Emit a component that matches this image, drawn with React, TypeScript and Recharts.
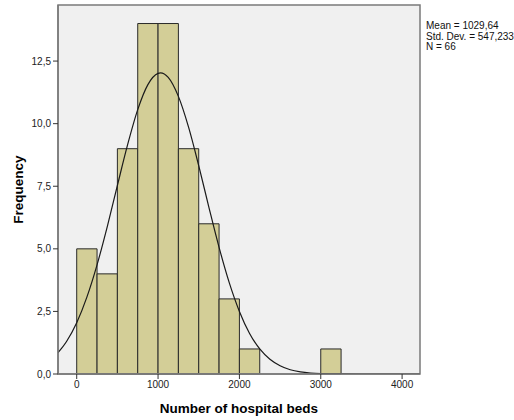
import React from "react";
import {
  ComposedChart,
  Line,
  XAxis,
  YAxis,
  ReferenceArea,
  CartesianGrid,
  Label,
} from "recharts";

// Histogram bins (number of hospital beds) and their frequencies
const binStarts = [0, 250, 500, 750, 1000, 1250, 1500, 1750, 2000, 3000];
const binEnds = [250, 500, 750, 1000, 1250, 1500, 1750, 2000, 2250, 3250];
const binCounts = [5, 4, 9, 14, 14, 9, 6, 3, 1, 1];

// Normal curve
const curveX = [
  -230, -125, 0, 125, 250, 375, 500, 625, 750, 875, 1000, 1030, 1125, 1250,
  1375, 1500, 1625, 1750, 1875, 2000, 2125, 2250, 2375, 2500, 2625, 2750,
  2875, 3000, 3250, 3500, 3750, 4000, 4220,
];
const curveY = [
  0.85, 1.3, 2.05, 3.07, 4.36, 5.88, 7.53, 9.15, 10.56, 11.56, 12.01, 12.03,
  11.85, 11.09, 9.86, 8.32, 6.66, 5.06, 3.65, 2.5, 1.62, 1.0, 0.59, 0.33,
  0.17, 0.086, 0.041, 0.018, 0.002, 0, 0, 0, 0,
];

const xTicks = [0, 1000, 2000, 3000, 4000];
const yTicks = [0, 2.5, 5, 7.5, 10, 12.5];
const statsLines = ["Mean = 1029,64", "Std. Dev. = 547,233", "N = 66"];
const xDomain = [-230, 4220];
const yDomain = [0, 14.74];

const curveData = curveX.map((x, i) => ({ x, y: curveY[i] }));

const FONT = "'Liberation Sans', Arial, sans-serif";
const fmt = (v: number) => v.toFixed(1).replace(".", ",");

export default function App() {
  return (
    <div style={{ position: "absolute", left: 0, top: 0, width: 514, height: 420, background: "#fff" }}>
      <ComposedChart
        width={514}
        height={420}
        data={curveData}
        margin={{ top: 5, right: 94, bottom: 0, left: 8 }}
      >
        <CartesianGrid fill="#f0f0f0" horizontal={false} vertical={false} />
        <XAxis
          xAxisId="b"
          dataKey="x"
          type="number"
          domain={xDomain}
          ticks={xTicks}
          allowDataOverflow
          height={46}
          axisLine={{ stroke: "#7a7a7a", strokeWidth: 1.5 }}
          tickLine={{ stroke: "#333" }}
          tickSize={5}
          tick={{ fontSize: 10, fill: "#222", fontFamily: FONT }}
          tickFormatter={(v: number) => String(v)}
        >
          <Label
            value="Number of hospital beds"
            position="insideBottom"
            offset={7}
            style={{ fontSize: 13.5, fontWeight: "bold", fill: "#000", fontFamily: FONT }}
          />
        </XAxis>
        <YAxis
          yAxisId="l"
          type="number"
          domain={yDomain}
          ticks={yTicks}
          allowDataOverflow
          width={50}
          axisLine={{ stroke: "#7a7a7a", strokeWidth: 1.5 }}
          tickLine={{ stroke: "#333" }}
          tickSize={5}
          tick={{ fontSize: 10, fill: "#222", fontFamily: FONT }}
          tickFormatter={fmt}
        >
          <Label
            value="Frequency"
            angle={-90}
            position="insideLeft"
            offset={10}
            style={{ fontSize: 13.5, fontWeight: "bold", fill: "#000", fontFamily: FONT, textAnchor: "middle" }}
          />
        </YAxis>
        {binStarts.map((s, i) => (
          <ReferenceArea
            key={i}
            xAxisId="b"
            yAxisId="l"
            x1={s}
            x2={binEnds[i]}
            y1={0}
            y2={binCounts[i]}
            fill="#d3ce97"
            fillOpacity={1}
            stroke="#2a2a2a"
            strokeWidth={1}
            ifOverflow="visible"
          />
        ))}
        <Line
          xAxisId="b"
          yAxisId="l"
          dataKey="y"
          type="monotone"
          stroke="#1a1a1a"
          strokeWidth={1.2}
          dot={false}
          activeDot={false}
          isAnimationActive={false}
        />
        <ReferenceArea
          xAxisId="b"
          yAxisId="l"
          x1={xDomain[0]}
          x2={xDomain[1]}
          y1={yDomain[0]}
          y2={yDomain[1]}
          fill="none"
          stroke="#7a7a7a"
          strokeWidth={1.5}
          ifOverflow="visible"
        />
      </ComposedChart>
      <div
        style={{
          position: "absolute",
          left: 426,
          top: 21,
          fontFamily: FONT,
          fontSize: 10,
          lineHeight: "10.5px",
          color: "#111",
          whiteSpace: "nowrap",
        }}
      >
        {statsLines.map((t, i) => (
          <div key={i}>{t}</div>
        ))}
      </div>
    </div>
  );
}
